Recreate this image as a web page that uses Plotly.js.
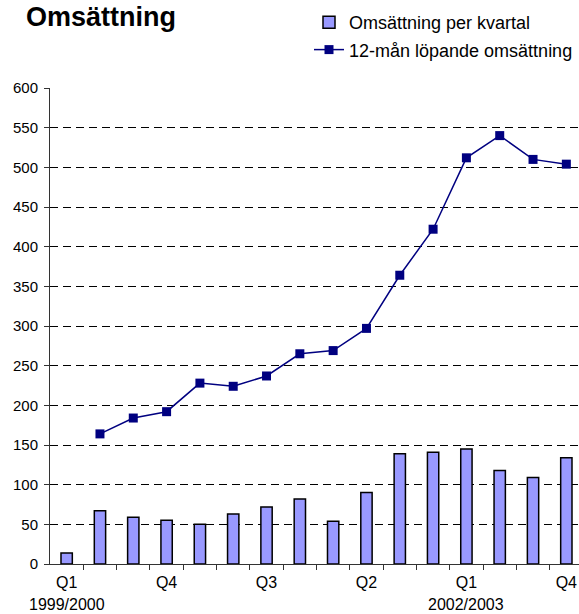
<!DOCTYPE html>
<html><head><meta charset="utf-8">
<script src="https://cdn.plot.ly/plotly-3.0.1.min.js"></script>
<style>body{margin:0;background:#fff}#c{width:579px;height:614px}</style>
</head><body><div id="c"></div>
<script>
const categories = ["Q1a","Q2a","Q3a","Q4a","Q1b","Q2b","Q3b","Q4b","Q1c","Q2c","Q3c","Q4c","Q1d","Q2d","Q3d","Q4d"];
const tickLabels = ["Q1","","","Q4","","","Q3","","","Q2","","","Q1","","","Q4"];
const quarterly = [14, 67, 59, 55, 50, 63, 72, 82, 54, 90, 139, 141, 145, 118, 109, 134];
const rolling = [null, 164, 184, 192, 228, 224, 237, 265, 269, 297, 364, 422, 512, 540, 510, 504];
const yearLabels = [{cat: "Q1a", text: "1999/2000"}, {cat: "Q1d", text: "2002/2003"}];

const font = "Liberation Sans, Arial, sans-serif";
const xRange = [-0.5, 15.38];
const traces = [
  {type: "bar", x: categories, y: quarterly, name: "Omsättning per kvartal", width: 0.34,
   marker: {color: "#9999FF", line: {color: "#000000", width: 1.5}}, legendgroup: "a"},
  {type: "scatter", mode: "lines+markers", x: categories, y: rolling, name: "12-mån löpande omsättning",
   line: {color: "#000080", width: 1.5}, marker: {symbol: "square", size: 9, color: "#000080"},
   connectgaps: false, legendgroup: "b"},
  {type: "scatter", x: [0], y: [null], xaxis: "x2", showlegend: false, hoverinfo: "skip"}
];
const layout = {
  width: 579, height: 614,
  margin: {l: 50, r: 0, t: 88, b: 50, autoexpand: false},
  paper_bgcolor: "#fff", plot_bgcolor: "#fff",
  font: {family: font, size: 15, color: "#000"},
  title: {text: "<b>Omsättning</b>", font: {family: font, size: 27, color: "#000"},
          x: 26/579, xanchor: "left", xref: "container", y: 1 - 17/614, yanchor: "middle", yref: "container"},
  showlegend: true,
  legend: {x: 309/579, xref: "container", y: 1 - 4/614, yref: "container", xanchor: "left", yanchor: "top",
           traceorder: "grouped", tracegroupgap: 1, font: {family: font, size: 18, color: "#000"},
           bgcolor: "rgba(0,0,0,0)"},
  xaxis: {type: "category", categoryorder: "array", categoryarray: categories,
          tickvals: categories, ticktext: tickLabels, showgrid: false,
          showline: true, linecolor: "#333", linewidth: 1, ticks: "", tickfont: {size: 16},
          range: xRange, fixedrange: true, ticklabelstandoff: 4},
  xaxis2: {overlaying: "x", range: xRange, tickvals: Array.from({length: 16}, (_, i) => i + 0.5),
          ticktext: Array(16).fill(""), ticks: "outside", ticklen: 5, tickcolor: "#333", showgrid: false,
          showline: false, side: "bottom", anchor: "y", zeroline: false, fixedrange: true},
  yaxis: {range: [0, 600], dtick: 50, tick0: 0, showgrid: true, gridcolor: "#000", gridwidth: 1,
          griddash: "8px,5px", showline: true, linecolor: "#333", linewidth: 1,
          ticks: "outside", ticklen: 5, tickcolor: "#333", tickfont: {size: 15}, zeroline: false,
          ticklabelstandoff: 3},
  annotations: yearLabels.map(d => ({x: d.cat, xref: "x", y: 0, yref: "paper", yshift: -51,
    text: d.text, showarrow: false, font: {family: font, size: 16, color: "#000"}}))
};
Plotly.newPlot("c", traces, layout, {displayModeBar: false, staticPlot: true});
</script></body></html>
